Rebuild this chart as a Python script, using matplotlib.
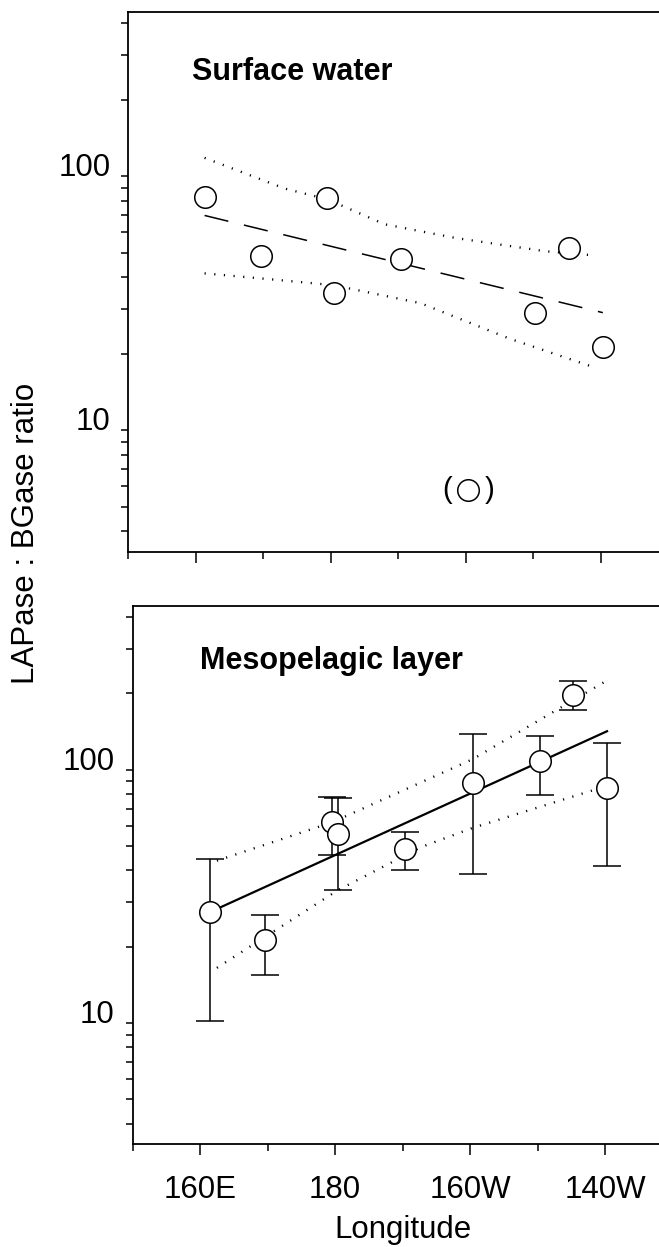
import matplotlib.pyplot as plt
from matplotlib.ticker import NullFormatter

plt.rcParams['font.family'] = ['Liberation Sans', 'DejaVu Sans']

# longitude in degrees east: 180 = dateline, 200 = 160W, 220 = 140W
surf_lon = [161.4, 169.6, 179.5, 180.4, 190.4, 210.3, 215.3, 220.3]
surf_ratio = [83, 48.5, 82, 34.6, 47.1, 29.0, 51.9, 21.2]
surf_out_lon = 200.4      # excluded point, shown in brackets
surf_out_ratio = 5.8
surf_fit_lon = [161.3, 220.3]
surf_fit = [70, 29]
surf_hi_lon = [161.3, 173.2, 179.5, 188.0, 198.6, 211.8, 219.2]
surf_hi = [118, 89.3, 81, 64.6, 57, 50.6, 48.7]
surf_lo_lon = [161.3, 172.2, 180.4, 193.3, 206.5, 219.2]
surf_lo = [41.4, 39.0, 37.2, 31.6, 22.9, 17.6]

meso_lon = [161.5, 169.6, 179.6, 180.4, 190.4, 200.4, 210.3, 215.3, 220.3]
meso_ratio = [27.3, 21.2, 62, 55.5, 48.5, 88.5, 108, 198, 84.9]
meso_hi = [44.5, 26.7, 77.8, 77.3, 56.8, 138, 136, 223, 127.6]
meso_lo = [10.2, 15.5, 46.1, 33.4, 40.1, 38.7, 79.4, 172, 41.5]
meso_fit_lon = [162.0, 220.3]
meso_fit = [27.8, 141.8]
meso_hi_lon = [162.5, 179.6, 200.4, 220.3]
meso_hi_band = [43.7, 62, 110, 225]
meso_lo_lon = [162.5, 180.4, 192.7, 200.4, 220.3]
meso_lo_band = [16.5, 33.4, 49.4, 58.9, 86.3]

xticks = [160, 180, 200, 220]
xlabels = ['160E', '180', '160W', '140W']

fig = plt.figure(figsize=(6.59, 12.47), dpi=100)
ax1 = fig.add_axes([0.1947, 0.5576, 0.8194, 0.4330])
ax2 = fig.add_axes([0.2011, 0.0824, 0.8194, 0.4319])

dots = dict(color='black', lw=1.7, linestyle=(0, (0.5, 3.6)))
circ = dict(marker='o', ms=15.5, mfc='white', mec='black', mew=1.1, ls='none', zorder=5)

# surface water
ax1.plot(surf_hi_lon, surf_hi, **dots)
ax1.plot(surf_lo_lon, surf_lo, **dots)
ax1.plot(surf_fit_lon, surf_fit, color='black', lw=1.1, linestyle=(0, (16, 10.5)))
ax1.plot(surf_lon, surf_ratio, **circ)
ax1.plot([surf_out_lon], [surf_out_ratio], **circ)
ax1.text(surf_out_lon - 3.2, surf_out_ratio, '(', fontsize=21, ha='center', va='center')
ax1.text(surf_out_lon + 3.2, surf_out_ratio, ')', fontsize=21, ha='center', va='center')
ax1.text(159.5, 240, 'Surface water', fontsize=22, fontweight='bold', va='baseline')

# mesopelagic layer
ax2.plot(meso_hi_lon, meso_hi_band, **dots)
ax2.plot(meso_lo_lon, meso_lo_band, **dots)
ax2.plot(meso_fit_lon, meso_fit, color='black', lw=1.6)
yerr = [[r - lo for r, lo in zip(meso_ratio, meso_lo)],
        [hi - r for r, hi in zip(meso_ratio, meso_hi)]]
ax2.errorbar(meso_lon, meso_ratio, yerr=yerr, fmt='none', ecolor='black',
             elinewidth=1.1, capsize=10, capthick=1.1, zorder=3)
ax2.plot(meso_lon, meso_ratio, **circ)
ax2.text(160, 250, 'Mesopelagic layer', fontsize=22, fontweight='bold', va='baseline')

for ax in (ax1, ax2):
    ax.set_yscale('log')
    ax.set_ylim(3.32, 444)
    ax.set_xlim(150, 230)
    ax.set_yticks([10, 100], labels=['10', '100'])
    ax.yaxis.set_minor_formatter(NullFormatter())
    ax.set_xticks(xticks)
    ax.set_xticks([150, 170, 190, 210], minor=True)
    ax.spines['right'].set_visible(False)
    for s in ax.spines.values():
        s.set_linewidth(1.3)
    ax.tick_params(axis='y', which='both', direction='out', length=5, width=1.1,
                   labelsize=22.5, pad=8)
    ax.tick_params(axis='x', which='major', direction='out', length=8, width=1.1,
                   labelsize=22.5, pad=14)
    ax.tick_params(axis='x', which='minor', direction='out', length=5, width=1.1)
    for lab in ax.get_yticklabels():
        lab.set_verticalalignment('baseline')

ax1.set_xticklabels([])
ax2.set_xticklabels(xlabels)
ax2.set_xlabel('Longitude', fontsize=22.5, labelpad=7)

fig.text(0.0395, 0.572, 'LAPase : BGase ratio', rotation=90, fontsize=22.5,
         ha='center', va='center')

fig.savefig('out.png', dpi=100)
